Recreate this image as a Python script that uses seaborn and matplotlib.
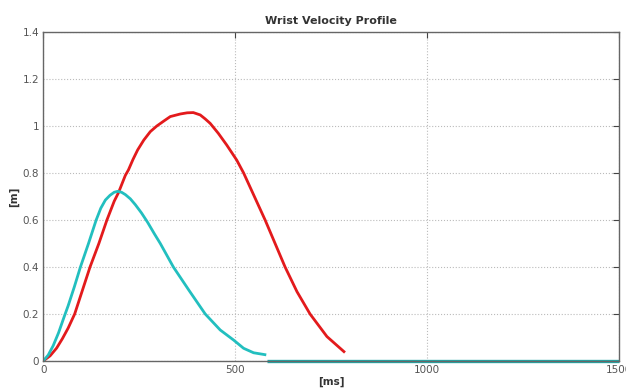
import matplotlib
matplotlib.use("Agg")
import matplotlib.pyplot as plt
import seaborn as sns
import pandas as pd

# Data
t_red = [0, 18, 35, 50, 65, 82, 102, 122, 145, 166, 185, 196, 214, 222, 234, 246, 262, 279, 296,
         315, 331, 357, 375, 391, 409, 422, 435, 456, 478, 504, 522, 550, 578, 604, 630,
         661, 695, 739, 786]
v_red = [0, 0.022, 0.055, 0.095, 0.14, 0.2, 0.3, 0.4, 0.5, 0.6, 0.68, 0.716, 0.79, 0.813, 0.858,
         0.898, 0.94, 0.976, 1.0, 1.022, 1.04, 1.051, 1.056, 1.057, 1.047, 1.03, 1.011, 0.969,
         0.919, 0.855, 0.8, 0.7, 0.6, 0.5, 0.4, 0.295, 0.2, 0.104, 0.036]

t_cyan = [0, 13, 26, 40, 55, 65, 81, 97, 118, 138, 150, 162, 174, 185, 194, 204, 214, 227, 240,
          256, 272, 290, 305, 339, 380, 422, 461, 496, 522, 548, 581]
v_cyan = [0, 0.025, 0.065, 0.12, 0.19, 0.235, 0.315, 0.4, 0.5, 0.6, 0.65, 0.685, 0.705, 0.718,
          0.722, 0.718, 0.708, 0.69, 0.665, 0.63, 0.59, 0.54, 0.5, 0.4, 0.3, 0.2, 0.132, 0.089,
          0.054, 0.035, 0.026]

t_rest = [582, 1500]
v_rest = [0, 0]

x_ticks = [0, 500, 1000, 1500]
y_ticks = [0, 0.2, 0.4, 0.6, 0.8, 1.0, 1.2, 1.4]
y_tick_labels = ["0", "0.2", "0.4", "0.6", "0.8", "1", "1.2", "1.4"]

sns.set_style("white")
plt.rcParams['font.family'] = ['DejaVu Sans']

fig = plt.figure(figsize=(6.26, 3.88), dpi=100)
ax = fig.add_axes([0.069, 0.0696, 0.920, 0.848])

red_df = pd.DataFrame({"t": t_red, "v": v_red})
cyan_df = pd.DataFrame({"t": t_cyan, "v": v_cyan})
rest_df = pd.DataFrame({"t": t_rest, "v": v_rest})

kw = dict(solid_joinstyle="round", solid_capstyle="butt")
sns.lineplot(data=red_df, x="t", y="v", ax=ax, color="#e31a1c", linewidth=2.0, sort=False, **kw)
sns.lineplot(data=cyan_df, x="t", y="v", ax=ax, color="#22bfbf", linewidth=2.0, sort=False, **kw)
sns.lineplot(data=rest_df, x="t", y="v", ax=ax, color="#1fa9a9", linewidth=2.4, sort=False,
             clip_on=False, **kw)

ax.set_xlim(0, 1500)
ax.set_ylim(0, 1.4)
ax.set_xticks(x_ticks)
ax.set_yticks(y_ticks)
ax.set_yticklabels(y_tick_labels)
ax.grid(True, linestyle=":", color="#bbbbbb", linewidth=0.8)
ax.tick_params(direction="in", length=4, labelsize=7.5, labelcolor="#555555",
               top=True, right=True, color="#444444", width=0.8, pad=3)
for s in ax.spines.values():
    s.set_color("#666666")
    s.set_linewidth(1.0)

ax.set_title("Wrist Velocity Profile", fontsize=8, fontweight="bold", color="#333333", pad=6)
ax.set_xlabel("[ms]", fontsize=7.5, fontweight="bold", color="#333333", labelpad=1)
ax.set_ylabel("[m]", fontsize=7.5, fontweight="bold", color="#333333", labelpad=2)

fig.savefig("out.png", dpi=100)
